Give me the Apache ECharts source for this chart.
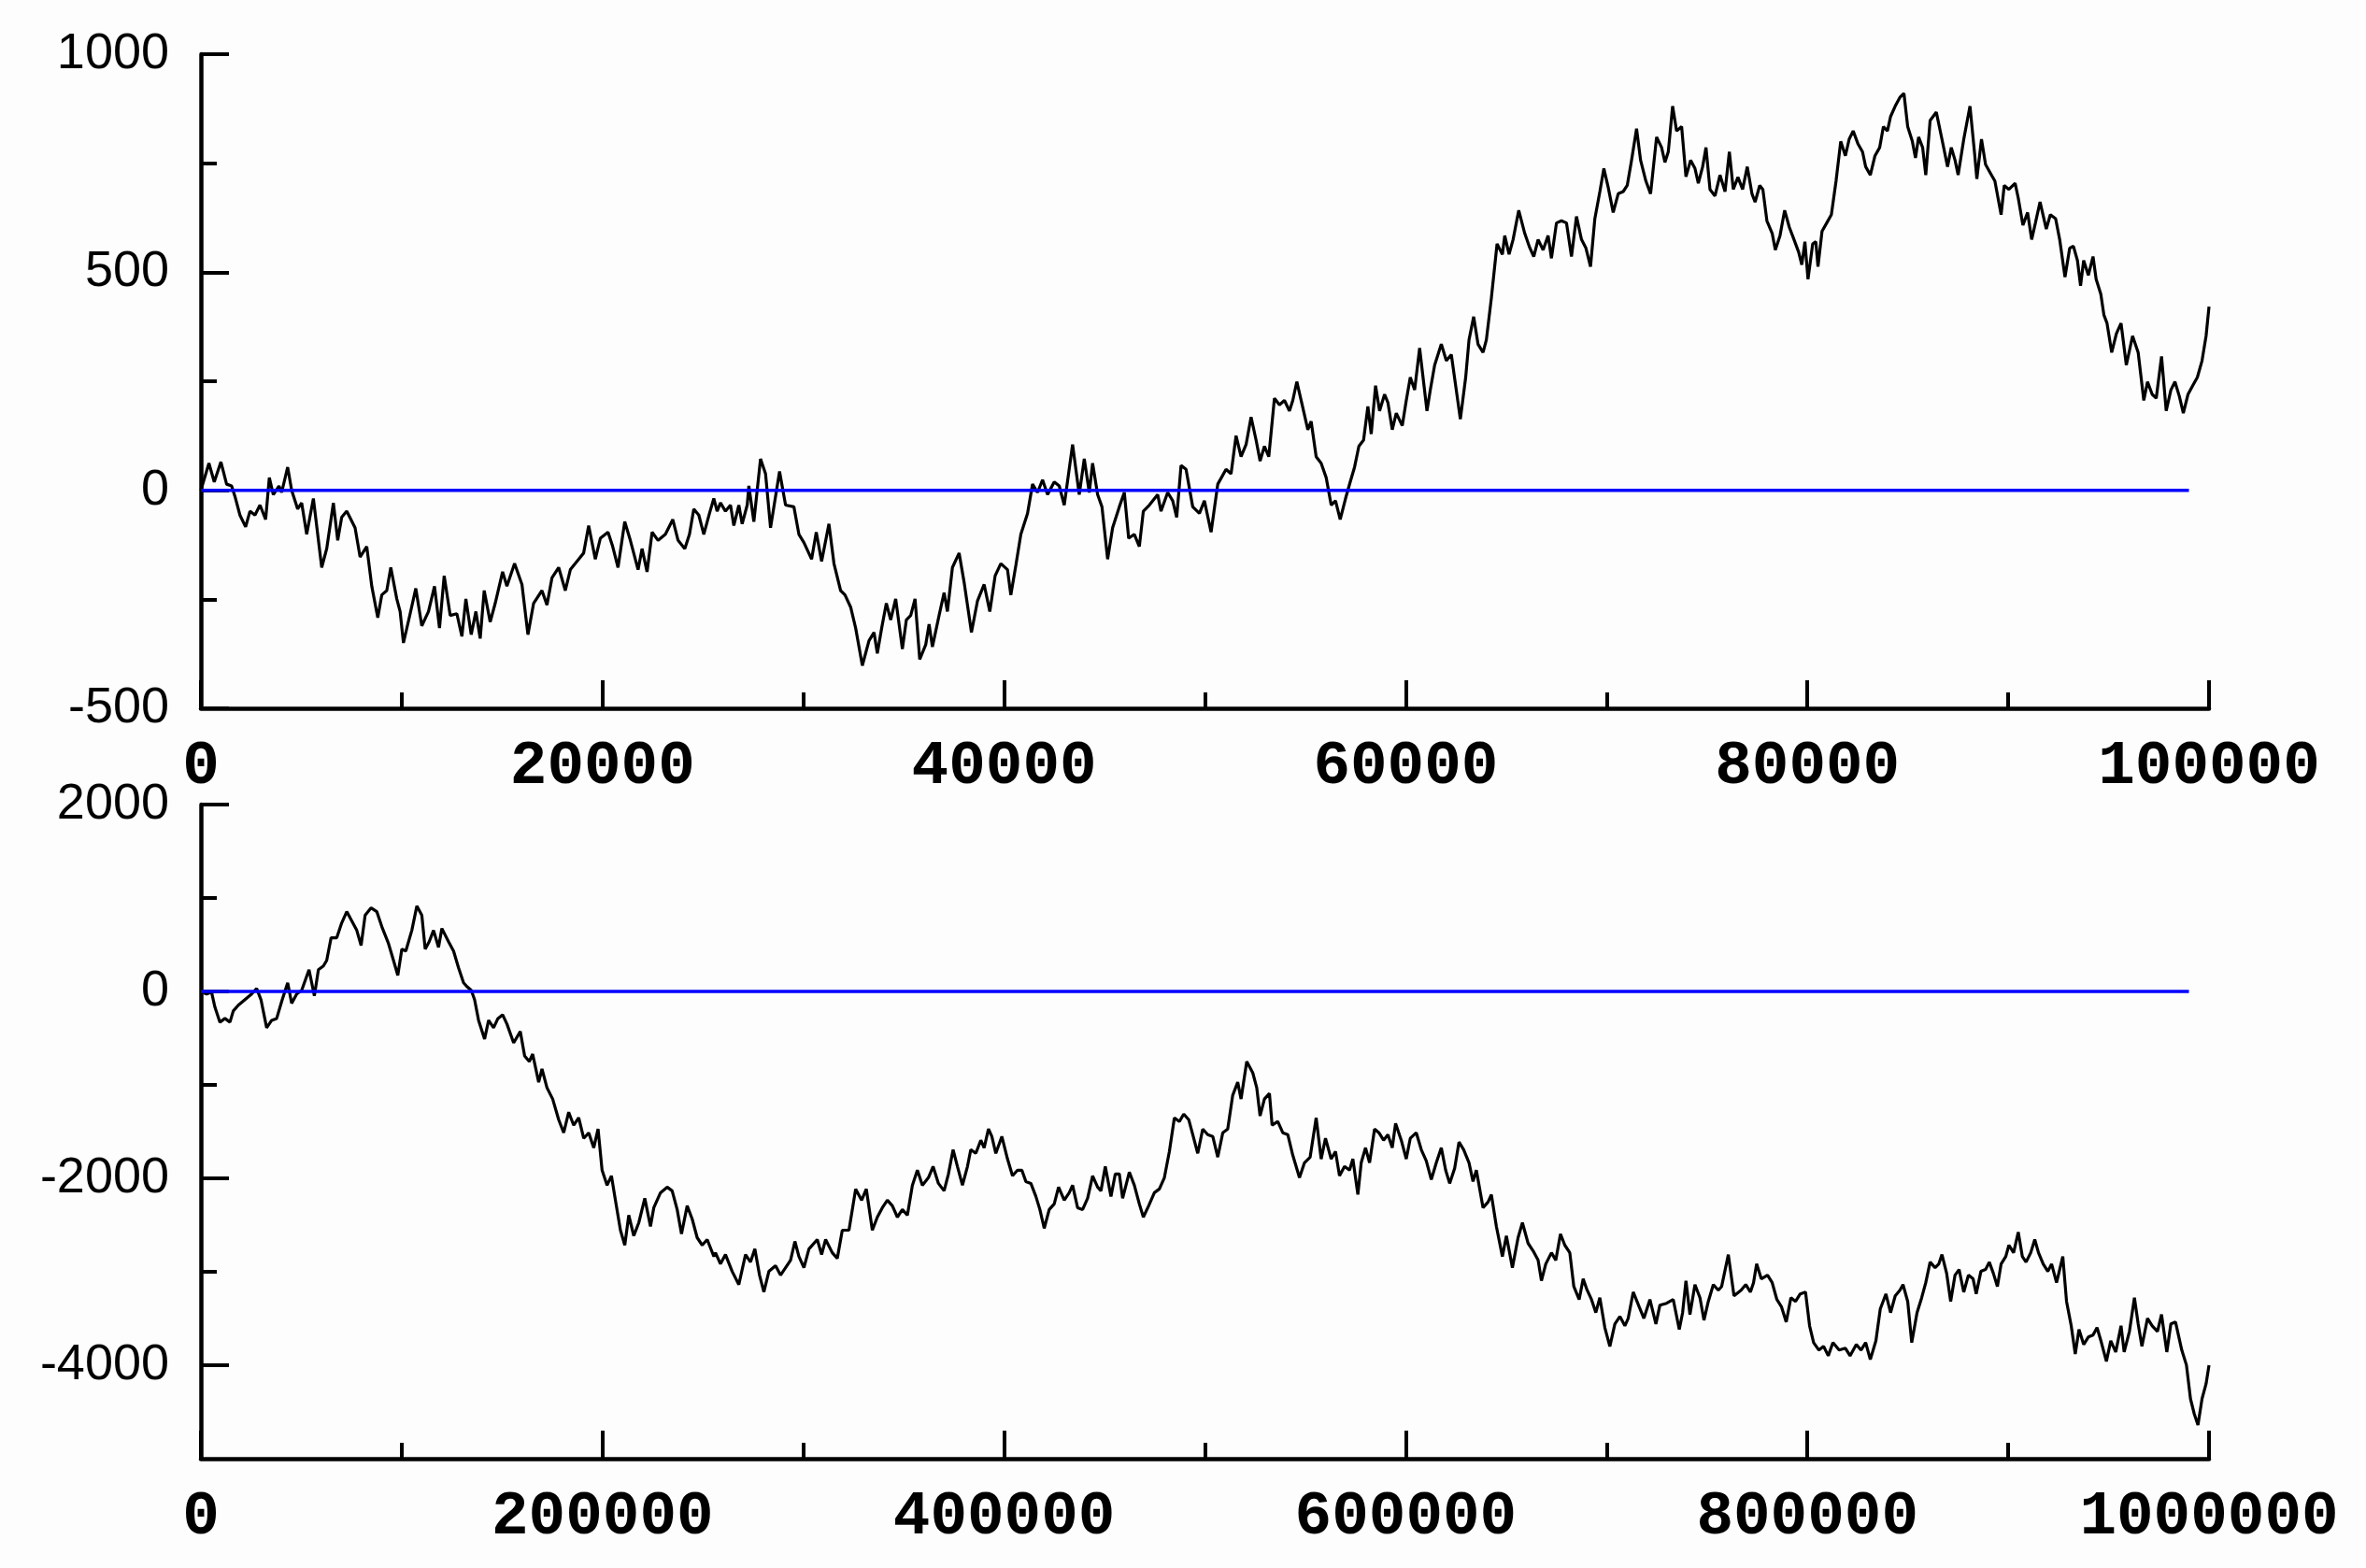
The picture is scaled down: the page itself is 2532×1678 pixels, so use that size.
<!DOCTYPE html>
<html>
<head>
<meta charset="utf-8">
<script src="https://cdn.jsdelivr.net/npm/echarts@6/dist/echarts.min.js"></script>
<style>
html,body{margin:0;padding:0;background:#fdfdfd;}
#c{width:2532px;height:1678px;}
</style>
</head>
<body>
<div id="c"></div>
<script>
// ---- Top panel: 100000 steps ----
const topSteps = [0,400,665,997,1280,1529,1695,1944,2227,2443,2692,2942,3224,3407,3606,3889,4021,4321,4520,4819,5018,5268,5601,6016,6265,6597,6813,7012,7262,7677,7927,8259,8509,8808,9007,9256,9456,9754,9920,10087,10420,10702,11000,11334,11633,11882,12115,12414,12746,12996,13195,13461,13694,13908,14108,14406,14657,15024,15239,15620,15988,16286,16569,16983,17234,17482,17816,18147,18398,18812,19059,19310,19641,19892,20274,20506,20772,21106,21386,21771,21968,22218,22469,22767,23131,23498,23763,24097,24330,24545,24795,25043,25326,25541,25708,25874,26123,26373,26539,26788,26954,27204,27287,27536,27868,28118,28367,28816,29115,29530,29780,30029,30411,30644,30910,31275,31525,31857,32073,32356,32605,32938,33270,33519,33685,33901,34134,34350,34599,34932,35131,35347,35563,35796,36095,36262,36428,36760,37009,37175,37425,37757,38007,38372,38671,39004,39286,39552,39835,40167,40333,40583,40832,41164,41414,41663,41912,42162,42494,42744,42993,43408,43740,43990,44239,44405,44655,44871,45153,45402,45735,45984,46201,46483,46732,46931,47230,47646,47812,48144,48394,48593,48809,49058,49391,49724,49973,50305,50638,51050,51300,51549,51798,52048,52297,52546,52746,52962,53178,53460,53710,53959,54208,54374,54574,54840,55123,55289,55538,55787,56037,56286,56502,56735,57000,57233,57449,57665,57898,58114,58280,58496,58696,58945,59111,59327,59527,59826,60025,60225,60441,60690,61056,61222,61438,61770,62020,62269,62718,62984,63150,63382,63598,63848,64014,64263,64546,64812,64928,65144,65344,65626,65925,66175,66374,66590,66839,67089,67255,67504,67754,68003,68252,68501,68751,68967,69200,69416,69666,69865,70080,70330,70579,70828,71028,71244,71493,71693,71958,72191,72490,72740,72906,73072,73288,73487,73737,73953,74186,74402,74568,74784,74951,75150,75399,75648,75898,76114,76309,76542,76774,77007,77240,77395,77627,77782,77984,78248,78403,78636,78868,79101,79333,79566,79721,79876,80031,80264,80419,80528,80729,80962,81194,81427,81660,81893,82079,82280,82513,82746,82901,83133,83366,83599,83785,83986,84142,84374,84607,84808,84995,85227,85383,85538,85739,85895,86111,86421,86701,86980,87166,87352,87507,87787,88097,88329,88438,88670,88872,89105,89337,89647,89803,90035,90345,90501,90733,90966,91168,91354,91586,91897,92098,92362,92564,92828,93060,93246,93448,93603,93758,93991,94224,94379,94612,94766,94921,95154,95387,95620,95883,96193,96472,96752,96938,97170,97372,97636,97868,98101,98303,98520,98721,98954,99187,99420,99652,99854,100000];
const topValues = [0,62,19,65,14,10,-14,-57,-84,-48,-57,-34,-67,29,-10,10,-5,53,0,-43,-29,-101,-19,-177,-134,-29,-115,-62,-48,-86,-153,-129,-220,-292,-240,-230,-177,-249,-278,-350,-283,-225,-311,-278,-220,-316,-196,-287,-283,-335,-249,-331,-278,-340,-230,-302,-259,-187,-220,-168,-216,-331,-259,-230,-263,-201,-177,-230,-182,-158,-144,-81,-158,-110,-96,-129,-177,-72,-115,-182,-134,-187,-96,-115,-101,-67,-115,-134,-101,-43,-57,-101,-53,-19,-48,-29,-48,-34,-81,-34,-77,-34,10,-72,72,38,-86,43,-34,-38,-101,-120,-158,-96,-163,-77,-168,-230,-240,-268,-316,-402,-345,-326,-374,-316,-259,-297,-249,-364,-297,-287,-249,-388,-354,-307,-359,-287,-235,-278,-177,-144,-211,-326,-254,-216,-278,-196,-168,-182,-240,-172,-101,-53,14,-5,24,-10,19,10,-34,105,-10,72,-5,62,-10,-38,-158,-86,-38,-5,-110,-101,-129,-48,-34,-10,-48,-5,-24,-62,57,48,-38,-53,-24,-96,14,48,38,125,77,105,168,115,67,101,77,211,196,206,182,206,249,196,139,158,77,62,29,-34,-24,-67,-19,19,53,101,115,192,129,240,182,220,201,139,177,148,206,259,230,326,182,230,287,335,297,311,163,259,345,398,335,316,345,441,565,541,584,541,575,642,589,556,536,575,551,584,532,613,618,613,536,628,575,556,513,623,685,738,695,637,680,685,699,757,829,757,709,680,810,786,752,776,881,824,834,719,757,738,704,742,786,690,675,723,685,776,690,718,690,742,680,661,699,690,618,589,551,584,642,603,575,546,517,570,484,565,570,513,594,613,632,709,800,767,805,824,795,776,742,723,767,786,834,824,857,881,901,910,834,800,762,810,786,723,848,867,805,742,786,757,723,805,881,771,714,805,747,728,709,632,699,690,704,670,608,637,575,613,661,599,632,623,575,489,555,560,527,469,527,493,536,484,450,402,383,316,359,383,287,354,316,206,249,220,211,307,182,230,249,216,177,220,240,259,297,354,421];

// ---- Bottom panel: 1000000 steps ----
const bottomSteps = [0,2826,5319,6981,9474,11967,14460,16122,18615,21939,25263,27756,29917,32742,35235,37728,40221,43213,45207,47700,50193,51855,53849,56508,58503,60996,62657,64818,67643,70136,72630,75123,77616,79777,81771,84763,87588,90081,93405,95898,98059,100053,102047,105039,107532,110025,111687,113681,115842,118335,119997,123321,125814,128307,130800,132462,134623,136285,138279,141271,143265,145758,147919,150246,152407,155731,159055,161215,163541,165209,168199,169857,172353,175178,178170,180663,183156,185649,188142,190635,193128,195621,197783,199779,202272,204433,206427,208920,211083,213069,215562,218055,221049,223872,225537,228858,232182,234675,237168,239329,242154,244647,247140,249633,252126,255450,256248,258741,261234,264558,267882,271206,273699,275860,278186,280347,282840,286164,288657,291150,293643,295804,297798,300291,302784,306939,309100,311094,314418,316911,319404,322728,326052,329044,331371,334362,336855,339348,341841,344334,346827,349320,351813,354306,356799,359292,362284,364610,367270,370095,372256,374582,376743,379236,381729,383391,385884,388377,390039,392200,393862,395856,398848,401673,404166,406659,408820,410814,413307,415800,417794,419955,422448,424941,427102,429927,432420,434082,436575,439068,441561,444054,446547,448209,450370,453195,455356,457350,459012,462336,464829,467322,469316,471976,474801,477294,479787,482280,484773,487266,489427,491920,493914,496407,498900,501393,503886,506379,508872,511332,513825,516318,517980,520805,523797,525791,527453,529614,532107,533437,536262,538755,541248,543741,547065,549558,552383,555375,557868,560029,562854,565015,567009,569502,571995,573657,576150,577812,579973,581967,584460,586621,588947,591108,593268,594931,597756,600249,602243,605235,607728,610221,612714,615207,617700,619861,621855,624348,626510,628835,631495,633489,635151,638475,640968,642630,645123,648115,650109,653101,655926,658087,660912,663405,665898,667560,669721,672546,674713,677033,679194,681687,683681,686340,688335,690329,692490,694650,696645,699138,701631,704124,706617,709110,710772,713265,716256,718583,721575,724567,726561,729885,733209,736201,737863,739525,741519,744012,746505,748499,750660,753153,755646,757308,760632,763457,766970,769296,771623,773174,774725,777051,780153,782480,784806,787133,789459,791786,794112,796439,799075,801092,803108,805745,808071,810398,812724,815826,818928,821255,824357,826683,829010,831336,834128,836299,839091,841418,843744,846071,847622,849948,851964,854601,856928,858944,861115,863597,865458,867009,869336,871352,873523,875540,877866,880193,882519,884070,886397,888723,890584,892608,894625,896478,898805,900356,902682,905009,907027,908886,911213,913229,915090,917417,919743,921604,924086,925637,927188,929049,931376,933392,935253,937580,939906,942233,944249,946420,948901,951073,953554,956191,957743,960378,962861,964722,966583,969375,971702,974338,976355,978991,981007,983334,986436,988763,990779,992640,994501,996517,998533,1000000];
const bottomValues = [0,-28,-8,-168,-329,-289,-329,-209,-148,-88,-28,32,-88,-389,-309,-289,-108,92,-128,-28,12,112,233,-48,233,273,333,574,574,734,854,754,654,493,814,894,854,694,513,333,172,453,433,654,914,814,453,533,654,473,674,533,433,253,92,52,12,-88,-309,-509,-309,-389,-289,-249,-349,-550,-429,-690,-750,-670,-971,-830,-1031,-1151,-1372,-1512,-1292,-1432,-1352,-1572,-1512,-1673,-1472,-1913,-2074,-1973,-2234,-2555,-2715,-2395,-2615,-2475,-2214,-2515,-2314,-2154,-2094,-2134,-2334,-2595,-2294,-2435,-2635,-2715,-2655,-2836,-2796,-2916,-2816,-2996,-3137,-2816,-2896,-2756,-3036,-3217,-2996,-2936,-3036,-2956,-2876,-2675,-2836,-2956,-2756,-2655,-2816,-2655,-2796,-2856,-2555,-2555,-2114,-2234,-2114,-2555,-2415,-2314,-2234,-2294,-2415,-2334,-2395,-2074,-1913,-2074,-1993,-1873,-2054,-2134,-1953,-1693,-1873,-2074,-1873,-1693,-1733,-1592,-1673,-1472,-1552,-1733,-1552,-1793,-1973,-1913,-1913,-2034,-2054,-2194,-2334,-2535,-2334,-2274,-2094,-2234,-2154,-2074,-2314,-2334,-2214,-1973,-2094,-2134,-1873,-2194,-1953,-1953,-2214,-1933,-2074,-2274,-2415,-2294,-2154,-2114,-1993,-1713,-1352,-1392,-1312,-1372,-1532,-1733,-1472,-1532,-1552,-1773,-1512,-1472,-1111,-971,-1151,-750,-870,-1031,-1332,-1151,-1091,-1432,-1392,-1512,-1532,-1753,-1993,-1833,-1773,-1352,-1793,-1572,-1793,-1713,-1973,-1873,-1913,-1793,-2174,-1833,-1673,-1833,-1472,-1512,-1592,-1532,-1673,-1412,-1592,-1793,-1572,-1512,-1693,-1813,-2014,-1833,-1673,-1913,-2054,-1893,-1612,-1693,-1833,-2034,-1913,-2314,-2254,-2174,-2515,-2836,-2615,-2956,-2635,-2475,-2695,-2776,-2876,-3096,-2916,-2796,-2876,-2595,-2715,-2796,-3157,-3297,-3076,-3197,-3297,-3437,-3277,-3598,-3798,-3558,-3478,-3578,-3498,-3217,-3377,-3498,-3297,-3558,-3357,-3337,-3297,-3618,-3437,-3096,-3457,-3137,-3277,-3518,-3317,-3137,-3197,-3157,-2816,-3257,-3197,-3137,-3217,-3117,-2916,-3076,-3036,-3117,-3297,-3377,-3538,-3277,-3317,-3237,-3217,-3578,-3758,-3838,-3798,-3899,-3758,-3838,-3818,-3899,-3778,-3838,-3758,-3939,-3738,-3397,-3237,-3437,-3257,-3197,-3137,-3317,-3758,-3437,-3277,-3117,-2896,-2956,-2916,-2816,-3016,-3317,-3036,-2976,-3217,-3036,-3076,-3237,-2996,-2976,-2896,-3016,-3157,-2916,-2836,-2715,-2796,-2575,-2836,-2896,-2796,-2655,-2796,-2916,-2996,-2916,-3117,-2976,-2836,-3317,-3578,-3879,-3618,-3778,-3698,-3678,-3598,-3758,-3959,-3738,-3859,-3578,-3859,-3638,-3277,-3558,-3798,-3498,-3578,-3638,-3457,-3859,-3558,-3538,-3838,-3999,-4360,-4520,-4641,-4360,-4199,-3999];

// ---- Reference (zero) lines ----
const topZeroSteps = [0, 99000];
const bottomZeroSteps = [0, 990000];
const zeroValues = [0, 0];

// ---- Axis ticks / labels ----
const topXMax = 100000, topXInterval = 20000;
const bottomXMax = 1000000, bottomXInterval = 200000;
const topYMin = -500, topYMax = 1000, topYInterval = 500;
const bottomYMin = -5000, bottomYMax = 2000;
const bottomYMajor = [-4000, -2000, 0, 2000];
const bottomYMinor = [-3000, -1000, 1000];

const zip = (xs, ys) => xs.map((x, i) => [x, ys[i]]);
const plain = v => String(v);

const BLACK = '#000000';
const axisLine = { show: true, onZero: false, lineStyle: { color: BLACK, width: 4.5 } };
const majorTick = { show: true, inside: true, length: 30, lineStyle: { color: BLACK, width: 4 } };
const minorTick = { show: true, splitNumber: 2, length: 17, lineStyle: { color: BLACK, width: 4 } };
const xLabel = { color: BLACK, fontFamily: 'Liberation Mono', fontWeight: 'bold', fontSize: 66, margin: 30, formatter: plain };
const yLabel = { color: BLACK, fontFamily: 'Liberation Sans', fontSize: 54, margin: 34, formatter: plain };

const chart = echarts.init(document.getElementById('c'), null, { renderer: 'canvas' });
chart.setOption({
  backgroundColor: '#fdfdfd',
  animation: false,
  grid: [
    { left: 215, right: 168, top: 58, height: 700, outerBoundsMode: 'none', containLabel: false },
    { left: 215, right: 168, top: 861, height: 700, outerBoundsMode: 'none', containLabel: false }
  ],
  xAxis: [
    { type: 'value', gridIndex: 0, min: 0, max: topXMax, interval: topXInterval,
      axisLine, axisTick: majorTick, minorTick, splitLine: { show: false }, axisLabel: xLabel },
    { type: 'value', gridIndex: 1, min: 0, max: bottomXMax, interval: bottomXInterval,
      axisLine, axisTick: majorTick, minorTick, splitLine: { show: false }, axisLabel: xLabel }
  ],
  yAxis: [
    { type: 'value', gridIndex: 0, position: 'left', min: topYMin, max: topYMax, interval: topYInterval,
      axisLine, axisTick: majorTick, minorTick, splitLine: { show: false }, axisLabel: yLabel },
    { type: 'value', gridIndex: 1, position: 'left', min: bottomYMin, max: bottomYMax, interval: 1000,
      axisLine, axisTick: Object.assign({}, majorTick, { customValues: bottomYMajor }),
      splitLine: { show: false }, axisLabel: Object.assign({}, yLabel, { customValues: bottomYMajor }) },
    { type: 'value', gridIndex: 1, position: 'left', min: bottomYMin, max: bottomYMax, interval: 1000,
      axisLine: { show: false, onZero: false },
      axisTick: { show: true, inside: true, length: 17, customValues: bottomYMinor, lineStyle: { color: BLACK, width: 4 } },
      axisLabel: { show: false }, splitLine: { show: false } }
  ],
  series: [
    { type: 'line', xAxisIndex: 0, yAxisIndex: 0, data: zip(topSteps, topValues), showSymbol: false, symbol: 'none',
      lineStyle: { color: BLACK, width: 3.2 }, z: 2 },
    { type: 'line', xAxisIndex: 0, yAxisIndex: 0, data: zip(topZeroSteps, zeroValues), showSymbol: false, symbol: 'none',
      lineStyle: { color: '#0000ff', width: 3.5 }, z: 3 },
    { type: 'line', xAxisIndex: 1, yAxisIndex: 1, data: zip(bottomSteps, bottomValues), showSymbol: false, symbol: 'none',
      lineStyle: { color: BLACK, width: 3.2 }, z: 2 },
    { type: 'line', xAxisIndex: 1, yAxisIndex: 1, data: zip(bottomZeroSteps, zeroValues), showSymbol: false, symbol: 'none',
      lineStyle: { color: '#0000ff', width: 3.5 }, z: 3 }
  ]
});
</script>
</body>
</html>
